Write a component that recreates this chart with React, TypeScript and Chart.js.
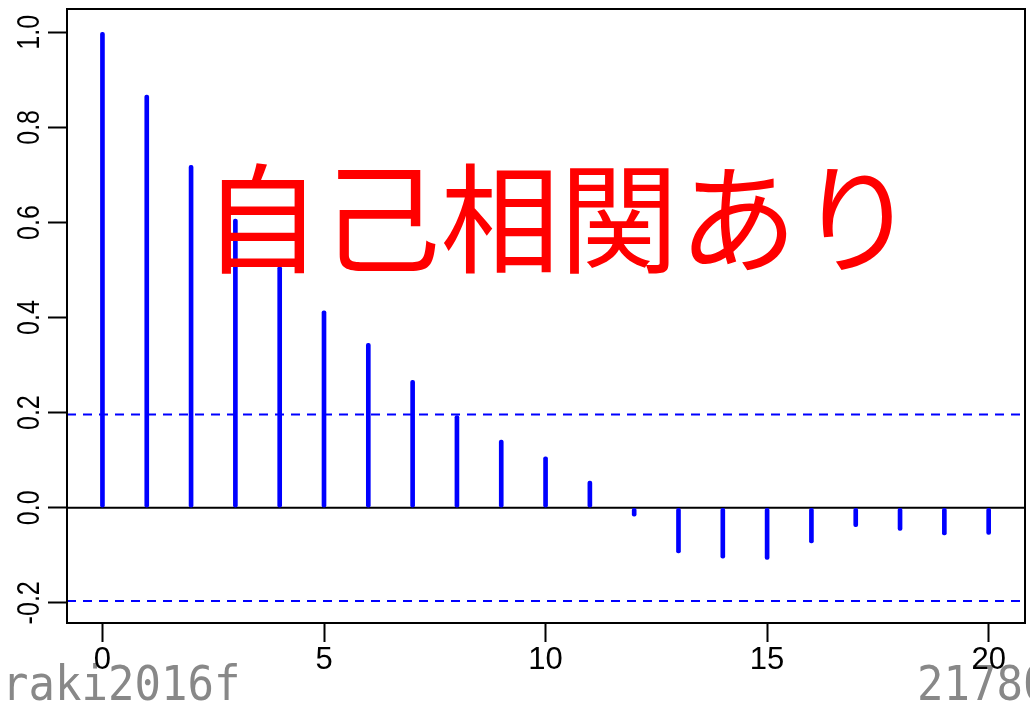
import React, { useEffect, useRef } from "react";
import { Chart, registerables } from "chart.js";

Chart.register(...registerables);

const lags = [0, 1, 2, 3, 4, 5, 6, 7, 8, 9, 10, 11, 12, 13, 14, 15, 16, 17, 18, 19, 20];
const acfValues = [
  1.0, 0.868, 0.72, 0.607, 0.507, 0.414, 0.346, 0.268, 0.194, 0.142, 0.107,
  0.056, -0.018, -0.095, -0.106, -0.109, -0.074, -0.04, -0.048, -0.057, -0.056,
];
const ciBound = 0.196;
const xTicks = [0, 5, 10, 15, 20];
const yTicks = [-0.2, 0, 0.2, 0.4, 0.6, 0.8, 1.0];
const yTickLabels = ["-0.2", "0.0", "0.2", "0.4", "0.6", "0.8", "1.0"];
const xMin = -0.8;
const xMax = 20.82;
const yMin = -0.2425;
const yMax = 1.049;
const annotationText = "自己相関あり";
const annotationPos = { x: 2.26, y: 0.607 };
const watermarkLeft = "raki2016f";
const watermarkRight = "21780";

export default function App() {
  const ref = useRef<HTMLCanvasElement>(null);

  useEffect(() => {
    const canvas = ref.current!;
    const overlay = {
      id: "overlay",
      beforeDraw(chart: any) {
        const ctx = chart.ctx;
        ctx.save();
        ctx.fillStyle = "#888888";
        ctx.font = '44px "DejaVu Sans Mono"';
        ctx.textBaseline = "alphabetic";
        ctx.textAlign = "left";
        ctx.translate(0, 700);
        ctx.scale(1, 1.08);
        ctx.fillText(watermarkLeft, 2, 0);
        ctx.fillText(watermarkRight, 917, 0);
        ctx.restore();
      },
      afterDatasetsDraw(chart: any) {
        const ctx = chart.ctx;
        const xs = chart.scales.x;
        const ys = chart.scales.y;
        ctx.save();
        ctx.fillStyle = "#ff0000";
        ctx.font = '119px "Noto Sans CJK JP"';
        ctx.textBaseline = "middle";
        ctx.textAlign = "left";
        ctx.fillText(
          annotationText,
          xs.getPixelForValue(annotationPos.x),
          ys.getPixelForValue(annotationPos.y)
        );
        ctx.restore();
      },
      afterDraw(chart: any) {
        const ctx = chart.ctx;
        const a = chart.chartArea;
        const ys = chart.scales.y;
        ctx.save();
        ctx.strokeStyle = "#000";
        ctx.lineWidth = 2;
        ctx.strokeRect(a.left, a.top, a.right - a.left, a.bottom - a.top);
        ctx.fillStyle = "#000";
        ctx.font = '31px "Liberation Sans", Arial, sans-serif';
        ctx.textAlign = "center";
        ctx.textBaseline = "middle";
        yTicks.forEach((v, i) => {
          const py = ys.getPixelForValue(v);
          ctx.save();
          ctx.translate(29, py);
          ctx.rotate(-Math.PI / 2);
          ctx.scale(0.81, 1);
          ctx.fillText(yTickLabels[i], 0, 1);
          ctx.restore();
        });
        ctx.restore();
      },
    };

    const chart = new Chart(canvas, {
      type: "bar",
      data: {
        datasets: [
          {
            type: "bar",
            data: lags.map((l, i) => ({ x: l, y: acfValues[i] })),
            backgroundColor: "#0000ff",
            borderWidth: 0,
            barThickness: 4,
            borderRadius: 2,
            borderSkipped: false,
            order: 0,
          } as any,
          {
            type: "line",
            data: [
              { x: xMin, y: 0 },
              { x: xMax, y: 0 },
            ],
            borderColor: "#000",
            borderWidth: 2,
            pointRadius: 0,
            order: 2,
          },
          {
            type: "line",
            data: [
              { x: xMin, y: ciBound },
              { x: xMax, y: ciBound },
            ],
            borderColor: "#0000ff",
            borderWidth: 2,
            borderDash: [9, 7],
            pointRadius: 0,
            order: 1,
          },
          {
            type: "line",
            data: [
              { x: xMin, y: -ciBound },
              { x: xMax, y: -ciBound },
            ],
            borderColor: "#0000ff",
            borderWidth: 2,
            borderDash: [9, 7],
            pointRadius: 0,
            order: 1,
          },
        ],
      },
      options: {
        responsive: false,
        animation: false,
        layout: { padding: { top: 9, right: 5, left: 0, bottom: 0 } },
        plugins: {
          legend: { display: false },
          tooltip: { enabled: false },
        },
        scales: {
          x: {
            type: "linear",
            min: xMin,
            max: xMax,
            offset: false,
            afterBuildTicks: (axis: any) => {
              axis.ticks = xTicks.map((v) => ({ value: v }));
            },
            afterFit: (axis: any) => {
              axis.height = 81;
            },
            grid: {
              offset: false,
              drawOnChartArea: false,
              drawTicks: true,
              tickLength: 19,
              tickWidth: 2,
              tickColor: "#000",
            },
            border: { display: false },
            ticks: {
              color: "#000",
              padding: 0,
              maxRotation: 0,
              autoSkip: false,
              font: { family: '"Liberation Sans", Arial, sans-serif', size: 31 },
              callback: (v: any) => String(v),
            },
          },
          y: {
            type: "linear",
            min: yMin,
            max: yMax,
            afterBuildTicks: (axis: any) => {
              axis.ticks = yTicks.map((v) => ({ value: v }));
            },
            afterFit: (axis: any) => {
              axis.width = 67;
            },
            grid: {
              offset: false,
              drawOnChartArea: false,
              drawTicks: true,
              tickLength: 19,
              tickWidth: 2,
              tickColor: "#000",
            },
            border: { display: false },
            ticks: { display: false },
          },
        },
      } as any,
      plugins: [overlay],
    });
    return () => chart.destroy();
  }, []);

  return (
    <div style={{ position: "fixed", left: 0, top: 0, width: 1030, height: 704, background: "#fff" }}>
      <canvas ref={ref} width={1030} height={704} style={{ display: "block" }} />
    </div>
  );
}
